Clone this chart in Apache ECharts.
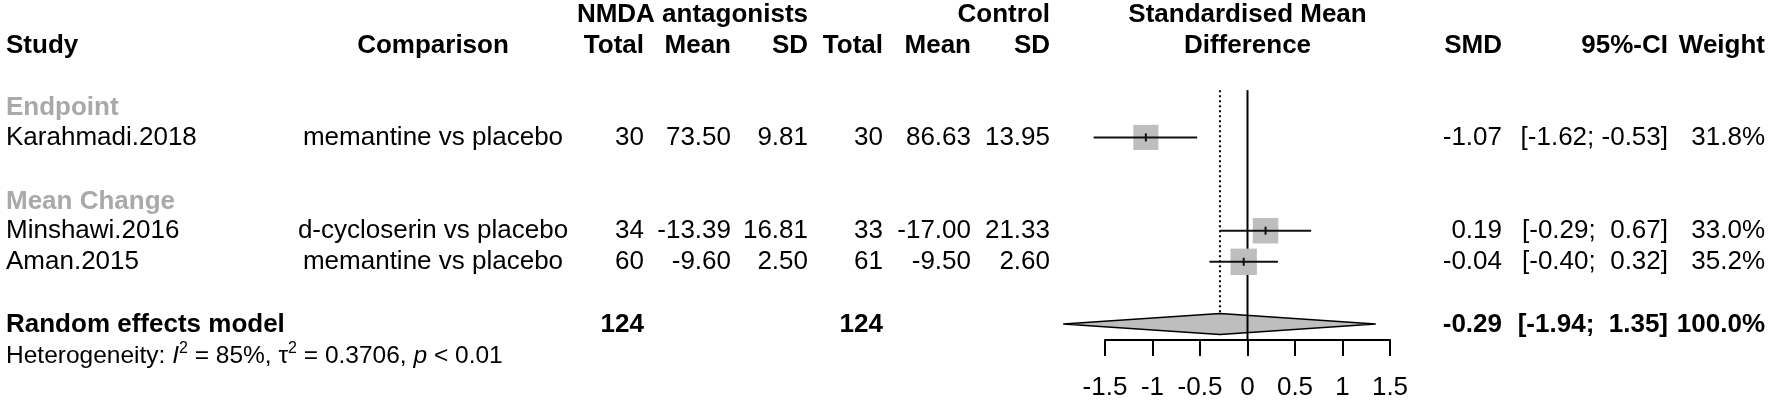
<!DOCTYPE html>
<html><head><meta charset="utf-8">
<script src="https://cdn.jsdelivr.net/npm/echarts@6/dist/echarts.min.js"></script>
<style>html,body{margin:0;padding:0;background:#fff}#c{width:1772px;height:401px}</style>
</head><body><div id="c"></div>
<script>
// ---------- data ----------
const groupNames = ['Endpoint', 'Mean Change'];
const studies = ['Karahmadi.2018', 'Minshawi.2016', 'Aman.2015'];
const studyGroup = [0, 1, 1];
const comparisons = ['memantine vs placebo', 'd-cycloserin vs placebo', 'memantine vs placebo'];
const expTotal = [30, 34, 60];
const expMean = [73.50, -13.39, -9.60];
const expSD = [9.81, 16.81, 2.50];
const ctrlTotal = [30, 33, 61];
const ctrlMean = [86.63, -17.00, -9.50];
const ctrlSD = [13.95, 21.33, 2.60];
const smd = [-1.07, 0.19, -0.04];
const ciLow = [-1.62, -0.29, -0.40];
const ciHigh = [-0.53, 0.67, 0.32];
const weightPct = [31.8, 33.0, 35.2];
const pooledLabel = 'Random effects model';
const pooledSMD = -0.29;
const pooledLow = -1.94;
const pooledHigh = 1.35;
const pooledWeight = 100.0;
const pooledExpTotal = 124;
const pooledCtrlTotal = 124;
const hetI2 = 85;
const hetTau2 = '0.3706';
const hetP = '< 0.01';
const xTicks = [-1.5, -1, -0.5, 0, 0.5, 1, 1.5];

// ---------- layout ----------
const FONT = "'Liberation Sans', Arial, sans-serif";
const FS = 26;
const HET_FS = 24.5;
const ROW_TOP = 13, ROW_H = 31.1;
const AXIS_Y = 340;
const Y_MAX = (AXIS_Y - ROW_TOP) / ROW_H;
const PLOT_L = 1105, PLOT_R = 1390;
const COL = {study: 6, comp: 433, eT: 644, eM: 731, eS: 808, cT: 883, cM: 971, cS: 1050,
             plotMid: 1247.5, smd: 1502, ci: 1668, w: 1765};
const REF_TOP = 2.48;
const DIA_HALF = 10.5;

// row assignment
const groupRow = [], studyRow = [];
let r = 3;
groupNames.forEach((g, gi) => {
  groupRow[gi] = r++;
  studies.forEach((s, si) => { if (studyGroup[si] === gi) studyRow[si] = r++; });
  r++;
});
const pooledRow = r;
const hetRow = r + 1;

const f2 = v => v.toFixed(2);
const pad = v => (v >= 0 ? ' ' : '') + v.toFixed(2);
const ciText = (lo, hi) => '[' + pad(lo) + '; ' + pad(hi) + ']';
const wText = w => w.toFixed(1) + '%';

function cell(text, x, align, bold, color) {
  return {text: String(text), x, align, bold: !!bold, color: color || '#000'};
}
const tableRows = [];
tableRows.push({row: 0, dy: 2, cells: [
  cell('NMDA antagonists', COL.eS, 'right', true),
  cell('Control', COL.cS, 'right', true),
  cell('Standardised Mean', COL.plotMid, 'center', true)
]});
tableRows.push({row: 1, dy: 2, cells: [
  cell('Study', COL.study, 'left', true),
  cell('Comparison', COL.comp, 'center', true),
  cell('Total', COL.eT, 'right', true), cell('Mean', COL.eM, 'right', true), cell('SD', COL.eS, 'right', true),
  cell('Total', COL.cT, 'right', true), cell('Mean', COL.cM, 'right', true), cell('SD', COL.cS, 'right', true),
  cell('Difference', COL.plotMid, 'center', true),
  cell('SMD', COL.smd, 'right', true), cell('95%-CI', COL.ci, 'right', true), cell('Weight', COL.w, 'right', true)
]});
groupNames.forEach((g, gi) => tableRows.push({row: groupRow[gi], dy: 2, cells: [cell(g, COL.study, 'left', true, '#A9A9A9')]}));
studies.forEach((s, i) => tableRows.push({row: studyRow[i], dy: 0, cells: [
  cell(s, COL.study, 'left'), cell(comparisons[i], COL.comp, 'center'),
  cell(expTotal[i], COL.eT, 'right'), cell(f2(expMean[i]), COL.eM, 'right'), cell(f2(expSD[i]), COL.eS, 'right'),
  cell(ctrlTotal[i], COL.cT, 'right'), cell(f2(ctrlMean[i]), COL.cM, 'right'), cell(f2(ctrlSD[i]), COL.cS, 'right'),
  cell(f2(smd[i]), COL.smd, 'right'), cell(ciText(ciLow[i], ciHigh[i]), COL.ci, 'right'), cell(wText(weightPct[i]), COL.w, 'right')
]}));
tableRows.push({row: pooledRow, dy: 1, cells: [
  cell(pooledLabel, COL.study, 'left', true),
  cell(pooledExpTotal, COL.eT, 'right', true), cell(pooledCtrlTotal, COL.cT, 'right', true),
  cell(f2(pooledSMD), COL.smd, 'right', true), cell(ciText(pooledLow, pooledHigh), COL.ci, 'right', true),
  cell(wText(pooledWeight), COL.w, 'right', true)
]});
tableRows.push({row: hetRow, dy: 1, rich: true, cells: [
  cell('Heterogeneity: {i|I}{sup|2} = ' + hetI2 + '%, \u03c4{sup|2} = ' + hetTau2 + ', {i|p} ' + hetP, COL.study, 'left')
]});

const chart = echarts.init(document.getElementById('c'), null, {renderer: 'canvas'});
chart.setOption({
  backgroundColor: '#fff',
  animation: false,
  grid: {left: PLOT_L, top: ROW_TOP, width: PLOT_R - PLOT_L, height: AXIS_Y - ROW_TOP, outerBoundsMode: 'none', containLabel: false},
  xAxis: {
    type: 'value', min: xTicks[0], max: xTicks[xTicks.length - 1], interval: 0.5,
    axisLine: {show: true, onZero: false, lineStyle: {color: '#000', width: 2}},
    axisTick: {show: true, inside: false, length: 16, lineStyle: {color: '#000', width: 2}},
    axisLabel: {fontSize: FS, color: '#000', fontFamily: FONT, margin: 35},
    splitLine: {show: false}
  },
  yAxis: {type: 'value', inverse: true, min: 0, max: Y_MAX, show: false},
  series: [
    { // pooled diamond
      type: 'custom', clip: false, silent: true, z: 2,
      data: [[pooledSMD, pooledRow, pooledLow, pooledHigh]],
      renderItem: (p, api) => {
        const c = api.coord([api.value(0), api.value(1)]);
        const lo = api.coord([api.value(2), api.value(1)]);
        const hi = api.coord([api.value(3), api.value(1)]);
        return {type: 'polygon', shape: {points: [[lo[0], c[1]], [c[0], c[1] - DIA_HALF], [hi[0], c[1]], [c[0], c[1] + DIA_HALF]]},
                style: {fill: '#BEBEBE', stroke: '#000', lineWidth: 1.5}};
      }
    },
    { // reference lines
      type: 'custom', clip: false, silent: true, z: 3,
      data: [[0, REF_TOP, Y_MAX, 0], [pooledSMD, REF_TOP, pooledRow, 1]],
      renderItem: (p, api) => {
        const a = api.coord([api.value(0), api.value(1)]);
        const b = api.coord([api.value(0), api.value(2)]);
        const dotted = api.value(3) === 1;
        return {type: 'line', shape: {x1: a[0], y1: a[1], x2: b[0], y2: dotted ? b[1] - DIA_HALF : b[1]},
                style: {stroke: '#000', lineWidth: 2, lineDash: dotted ? [2, 3] : null}};
      }
    },
    { // study squares + CIs
      type: 'custom', clip: false, silent: true, z: 4,
      data: studies.map((s, i) => [smd[i], studyRow[i], ciLow[i], ciHigh[i], weightPct[i]]),
      renderItem: (p, api) => {
        const row = api.value(1);
        const c = api.coord([api.value(0), row]);
        const lo = api.coord([api.value(2), row]);
        const hi = api.coord([api.value(3), row]);
        const size = 4.45 * Math.sqrt(api.value(4));
        return {type: 'group', children: [
          {type: 'rect', shape: {x: c[0] - size / 2, y: c[1] - size / 2, width: size, height: size}, style: {fill: '#BEBEBE'}},
          {type: 'line', shape: {x1: lo[0], y1: c[1], x2: hi[0], y2: c[1]}, style: {stroke: '#111', lineWidth: 2}},
          {type: 'line', shape: {x1: c[0], y1: c[1] - 4, x2: c[0], y2: c[1] + 4}, style: {stroke: '#111', lineWidth: 2}}
        ]};
      }
    },
    { // table text
      type: 'custom', clip: false, silent: true, z: 5,
      data: tableRows.map((t, i) => [0, t.row, i]),
      renderItem: (p, api) => {
        const t = tableRows[api.value(2)];
        const y = api.coord([0, api.value(1)])[1] + (t.dy || 0);
        return {type: 'group', children: t.cells.map(c => ({
          type: 'text', x: c.x, y: y,
          style: Object.assign({
            text: c.text, fill: c.color, align: c.align, verticalAlign: 'middle',
            fontFamily: FONT, fontSize: t.rich ? HET_FS : FS, fontWeight: c.bold ? 'bold' : 'normal'
          }, t.rich ? {lineHeight: 32, rich: {
            i: {fontFamily: FONT, fontSize: HET_FS, fontStyle: 'italic', fill: '#000', lineHeight: 32},
            sup: {fontFamily: FONT, fontSize: 16, fill: '#000', verticalAlign: 'top', lineHeight: 16}
          }} : {})
        }))};
      }
    }
  ]
});
</script>
</body></html>
